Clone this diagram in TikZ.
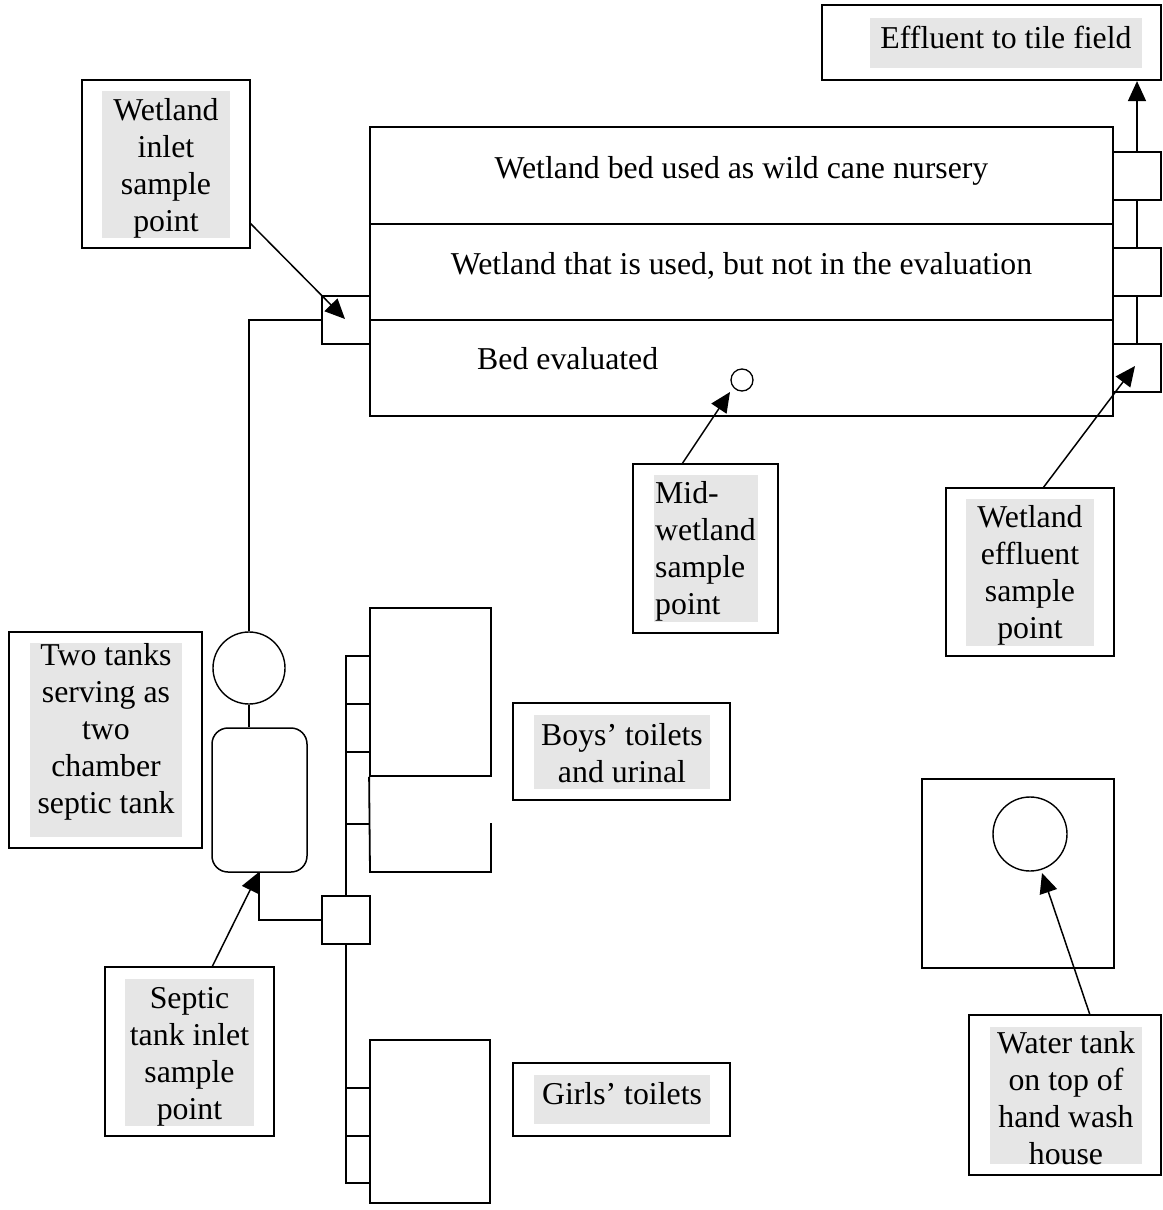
\documentclass[tikz,border=0pt]{standalone}
\usepackage{fontspec}
\setmainfont{Liberation Serif}
\usetikzlibrary{arrows.meta}
\definecolor{hlgray}{HTML}{E6E6E6}
\newcommand\ml[2]{\begin{tabular}[t]{@{}#1@{}}#2\end{tabular}}
\newcommand\rbox[6]{\node[#2, minimum width={(#5)-(#3)}, minimum height={(#6)-(#4)}] (#1) at ({((#3)+(#5))/2},{((#4)+(#6))/2}) {};}
\tikzset{
  lbox/.style={draw, line width=2.2pt, inner sep=0pt},
  hlbox/.style={fill=hlgray, inner sep=0pt},
  txt/.style={inner sep=0pt, anchor=base, font=\fontsize{31.8}{37}\selectfont},
  part/.style={draw, line width=1.8pt, inner sep=0pt},
  pipe/.style={line width=1.8pt},
  ring/.style={draw, circle, line width=1.4pt, inner sep=0pt},
  arr/.style={line width=1.5pt, -{Triangle[length=20pt,width=18pt]}}
}
\begin{document}
\begin{tikzpicture}[x=1pt,y=-1pt]
\useasboundingbox (0,0) rectangle (1162,1210);

% ---- wetland beds
\rbox{wet}{part}{370}{127}{1113}{416}
\draw[pipe] (370,224) -- (1113,224);
\draw[pipe] (370,320) -- (1113,320);
\node[txt] (bed1) at (741.5,178) {Wetland bed used as wild cane nursery};
\node[txt] (bed2) at (741.5,274) {Wetland that is used, but not in the evaluation};
\node[txt, anchor=base west] (bed3) at (477,369) {Bed evaluated};
\node[ring, line width=1.3pt, minimum size=22pt] (midc) at (742,380) {};

% ---- outlet squares
\rbox{o1}{part}{1113}{152}{1161}{200}
\rbox{o2}{part}{1113}{248}{1161}{296}
\rbox{o3}{part}{1113}{344}{1161}{392}
\draw[pipe] (o3.north) -- (o2.south);
\draw[pipe] (o2.north) -- (o1.south);

% ---- effluent to tile field
\rbox{eff}{lbox}{822}{5}{1161}{80}
\rbox{effhl}{hlbox}{870}{18}{1142}{68}
\node[txt] (efft) at (1006,48) {Effluent to tile field};
\draw[arr] (o1.north) -- (o1.north |- eff.south);

% ---- inlet
\rbox{isq}{part}{322}{296}{370}{344}
\node[ring, minimum size=72pt] (tank1) at (249,668) {};
\rbox{tank2}{part, line width=1.5pt, rounded corners=16pt}{212}{728}{307}{872}
\coordinate (bend1) at (249,320);
\draw[pipe] (isq.west) -- (bend1) -- (tank1.north);
\draw[pipe] (tank1.south) -- (tank1.south |- tank2.north);

% ---- septic inlet and sewer
\rbox{ssq}{part}{322}{896}{370}{944}
\coordinate (sin) at (259,872);
\draw[pipe] (ssq.west) -| (sin);
\draw[pipe] (ssq.north) -- (346,656) -- (370,656);
\draw[pipe] (346,704) -- (370,704);
\draw[pipe] (346,752) -- (370,752);
\draw[pipe] (346,824) -- (370,824);
\draw[pipe] (ssq.south) -- (346,1183) -- (370,1183);
\draw[pipe] (346,1088) -- (370,1088);
\draw[pipe] (346,1136) -- (370,1136);

% ---- toilet buildings
\rbox{boys}{part}{370}{608}{491}{776}
\draw[pipe] (boys.south west) -- (370,872) -- (491,872) -- (491,823);
\rbox{girls}{part}{370}{1040}{490}{1203}

% ---- hand wash house
\rbox{hw}{part}{922}{779}{1114}{968}
\node[ring, minimum size=74pt] (wtank) at (1030,834) {};

% ---- labels
\rbox{inl}{lbox}{82}{80}{250}{248}
\rbox{inlhl}{hlbox}{102}{91}{230}{238}
\node[txt] (inlt) at (166,120) {\ml{c}{Wetland\\inlet\\sample\\point}};

\rbox{mid}{lbox}{633}{464}{778}{633}
\rbox{midhl}{hlbox}{654}{475}{758}{622}
\node[txt, anchor=base west] (midt) at (655,503) {\ml{l}{Mid-\\wetland\\sample\\point}};

\rbox{efs}{lbox}{946}{488}{1114}{656}
\rbox{efshl}{hlbox}{966}{499}{1094}{646}
\node[txt] (efst) at (1030,527) {\ml{c}{Wetland\\effluent\\sample\\point}};

\rbox{two}{lbox}{9}{632}{202}{848}
\rbox{twohl}{hlbox}{30}{643}{182}{837}
\node[txt] (twot) at (106,665) {\ml{c}{Two tanks\\serving as\\two\\chamber\\septic tank}};

\rbox{boyl}{lbox}{513}{703}{730}{800}
\rbox{boylhl}{hlbox}{534}{715}{710}{789}
\node[txt] (boyt) at (622,745) {\ml{c}{Boys’ toilets\\and urinal}};

\rbox{girl}{lbox}{513}{1063}{730}{1136}
\rbox{girlhl}{hlbox}{534}{1075}{710}{1124}
\node[txt] (girlt) at (622,1104) {Girls’ toilets};

\rbox{sep}{lbox}{105}{967}{274}{1136}
\rbox{sephl}{hlbox}{125}{979}{254}{1126}
\node[txt] (sept) at (189.5,1008) {\ml{c}{Septic\\tank inlet\\sample\\point}};

\rbox{wat}{lbox}{969}{1015}{1161}{1175}
\rbox{wathl}{hlbox}{990}{1027}{1142}{1164}
\node[txt] (watt) at (1066,1053) {\ml{c}{Water tank\\on top of\\hand wash\\house}};

% ---- arrows
\coordinate (inA) at (250,223);  \coordinate (inB) at (345,319);
\coordinate (midA) at (682,464); \coordinate (midB) at (730,392);
\coordinate (efA) at (1043,488); \coordinate (efB) at (1135,366);
\coordinate (wA) at (1090,1015); \coordinate (wB) at (1042,873);
\coordinate (sA) at (212,967);
\draw[arr] (inA) -- (inB);
\draw[arr] (midA) -- (midB);
\draw[arr] (efA) -- (efB);
\draw[arr] (wA) -- (wB);
\draw[arr] (sA) -- (sin);
\end{tikzpicture}
\end{document}
